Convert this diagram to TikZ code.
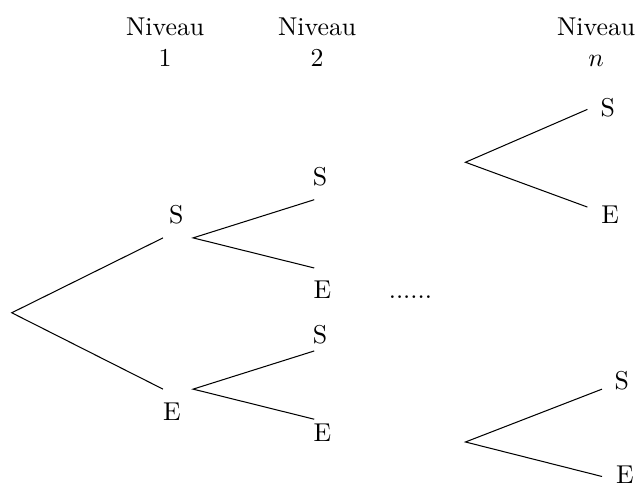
\documentclass[tikz,border=0pt]{standalone}
\usetikzlibrary{positioning}
\begin{document}
\begin{tikzpicture}[x=1cm, y=1cm, etiq/.style={inner sep=1pt}]
  \useasboundingbox (0,0) rectangle (8.69,-6.63);
  % en-tetes des niveaux
  \node[align=center] (niv1) at (2.25,-0.58) {Niveau\\1};
  \node[align=center] (niv2) at (4.32,-0.58) {Niveau\\2};
  \node[align=center] (nivn) at (8.12,-0.58) {Niveau\\$n$};
  % niveaux 1 et 2
  \coordinate (r) at (0.16,-4.26);
  \coordinate (s1g) at (2.22,-3.24);
  \coordinate (s1d) at (2.63,-3.24);
  \coordinate (e1g) at (2.22,-5.30);
  \coordinate (e1d) at (2.63,-5.30);
  \node[etiq] (S1) at (2.40,-2.93) {S};
  \node[etiq] (E1) at (2.34,-5.61) {E};
  \coordinate (ss) at (4.28,-2.72);
  \coordinate (se) at (4.28,-3.65);
  \coordinate (es) at (4.28,-4.78);
  \coordinate (ee) at (4.28,-5.71);
  \node[etiq] (SS) at (4.36,-2.40) {S};
  \node[etiq] (SE) at (4.39,-3.95) {E};
  \node[etiq] (ES) at (4.36,-4.56) {S};
  \node[etiq] (EE) at (4.39,-5.89) {E};
  \draw (s1g) -- (r) -- (e1g);
  \draw (ss) -- (s1d) -- (se);
  \draw (es) -- (e1d) -- (ee);
  \node (pts) at (5.59,-4.05) {......};
  % niveau n
  \coordinate (hn) at (6.34,-2.21);
  \coordinate (hns) at (8.00,-1.49);
  \coordinate (hne) at (8.00,-2.82);
  \node[etiq] (HS) at (8.28,-1.47) {S};
  \node[etiq] (HE) at (8.31,-2.92) {E};
  \coordinate (bn) at (6.34,-6.02);
  \coordinate (bns) at (8.20,-5.30);
  \coordinate (bne) at (8.20,-6.49);
  \node[etiq] (BS) at (8.47,-5.18) {S};
  \node[etiq] (BE) at (8.51,-6.47) {E};
  \draw (hns) -- (hn) -- (hne);
  \draw (bns) -- (bn) -- (bne);
\end{tikzpicture}
\end{document}
